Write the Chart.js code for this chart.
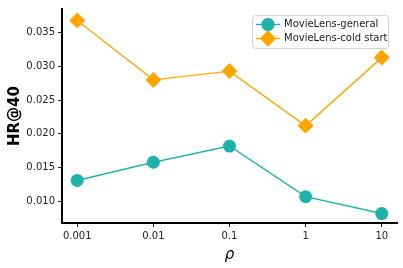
<!DOCTYPE html>
<html>
<head>
<meta charset="utf-8">
<script src="https://cdn.jsdelivr.net/npm/chart.js@4/dist/chart.umd.min.js"></script>
<style>
  html, body { margin: 0; padding: 0; background: #fff; }
  #wrap { width: 403px; height: 268px; }
</style>
</head>
<body>
<div id="wrap"><canvas id="chart" width="403" height="268"></canvas></div>
<script>
// categories and series
const rhoLabels = ['0.001', '0.01', '0.1', '1', '10'];
const generalHR = [0.0131, 0.0158, 0.0182, 0.0107, 0.0082];
const coldStartHR = [0.0368, 0.0280, 0.0293, 0.0212, 0.0313];
const yTicks = [0.010, 0.015, 0.020, 0.025, 0.030, 0.035];

const FONT = 'DejaVu Sans';

// matplotlib-like legend box in the upper right of the plot
const legendBox = {
    id: 'legendBox',
    afterDraw(chart) {
        const ctx = chart.ctx;
        const area = chart.chartArea;
        const x = area.right - 145, y = area.top + 6, w = 136, h = 33;
        ctx.save();
        ctx.fillStyle = 'rgba(255,255,255,0.8)';
        ctx.strokeStyle = '#d0d0d0';
        ctx.lineWidth = 1;
        ctx.beginPath();
        ctx.roundRect(x + 0.5, y + 0.5, w, h, 3);
        ctx.fill();
        ctx.stroke();
        chart.data.datasets.forEach((ds, i) => {
            const cy = y + 9.5 + i * 14;
            ctx.strokeStyle = ds.borderColor;
            ctx.lineWidth = 1.4;
            ctx.beginPath();
            ctx.moveTo(x + 4, cy);
            ctx.lineTo(x + 28, cy);
            ctx.stroke();
            ctx.fillStyle = ds.pointBackgroundColor;
            Chart.helpers.drawPoint(ctx, {
                pointStyle: ds.pointStyle,
                radius: ds.pointRadius,
                borderWidth: 0
            }, x + 16, cy);
            ctx.fill();
            ctx.fillStyle = '#222';
            ctx.font = '10px ' + FONT;
            ctx.textBaseline = 'middle';
            ctx.fillText(ds.label, x + 32, cy);
        });
        ctx.restore();
    }
};

new Chart(document.getElementById('chart').getContext('2d'), {
    type: 'line',
    data: {
        datasets: [{
            label: 'MovieLens-general',
            data: generalHR.map((v, i) => ({ x: i, y: v })),
            borderColor: '#20b2aa',
            backgroundColor: '#20b2aa',
            pointBackgroundColor: '#20b2aa',
            pointBorderWidth: 0,
            pointStyle: 'circle',
            pointRadius: 6.5,
            borderWidth: 1.4,
            tension: 0
        }, {
            label: 'MovieLens-cold start',
            data: coldStartHR.map((v, i) => ({ x: i, y: v })),
            borderColor: '#ffa500',
            backgroundColor: '#ffa500',
            pointBackgroundColor: '#ffa500',
            pointBorderWidth: 0,
            pointStyle: 'rectRot',
            pointRadius: 8,
            borderWidth: 1.4,
            tension: 0
        }]
    },
    options: {
        responsive: false,
        animation: false,
        layout: { autoPadding: false, padding: { top: 5, right: 6, left: 0, bottom: 0 } },
        plugins: { legend: { display: false }, tooltip: { enabled: false } },
        scales: {
            x: {
                type: 'linear',
                min: -0.2,
                max: 4.2,
                afterBuildTicks: scale => {
                    scale.ticks = rhoLabels.map((_, i) => ({ value: i }));
                },
                afterFit: scale => { scale.height = 45; },
                ticks: {
                    callback: v => rhoLabels[v],
                    font: { family: FONT, size: 10 },
                    color: '#222',
                    padding: 3,
                    maxRotation: 0
                },
                grid: { drawOnChartArea: false, drawTicks: true, tickLength: 4, color: '#222' },
                border: { display: true, color: '#000', width: 2 },
                title: {
                    display: true,
                    text: 'ρ',
                    font: { family: FONT, size: 15, style: 'italic' },
                    color: '#000',
                    padding: { top: 0 }
                }
            },
            y: {
                min: 0.0068,
                max: 0.0385,
                afterBuildTicks: scale => {
                    scale.ticks = yTicks.map(v => ({ value: v }));
                },
                afterFit: scale => { scale.width = 62; },
                ticks: {
                    callback: v => v.toFixed(3),
                    font: { family: FONT, size: 10 },
                    color: '#222',
                    padding: 3
                },
                grid: { drawOnChartArea: false, drawTicks: true, tickLength: 4, color: '#222' },
                border: { display: true, color: '#000', width: 2 },
                title: {
                    display: true,
                    text: 'HR@40',
                    font: { family: FONT, size: 15, weight: 'bold' },
                    color: '#000',
                    padding: { top: 6, bottom: 0 }
                }
            }
        }
    },
    plugins: [legendBox]
});
</script>
</body>
</html>
